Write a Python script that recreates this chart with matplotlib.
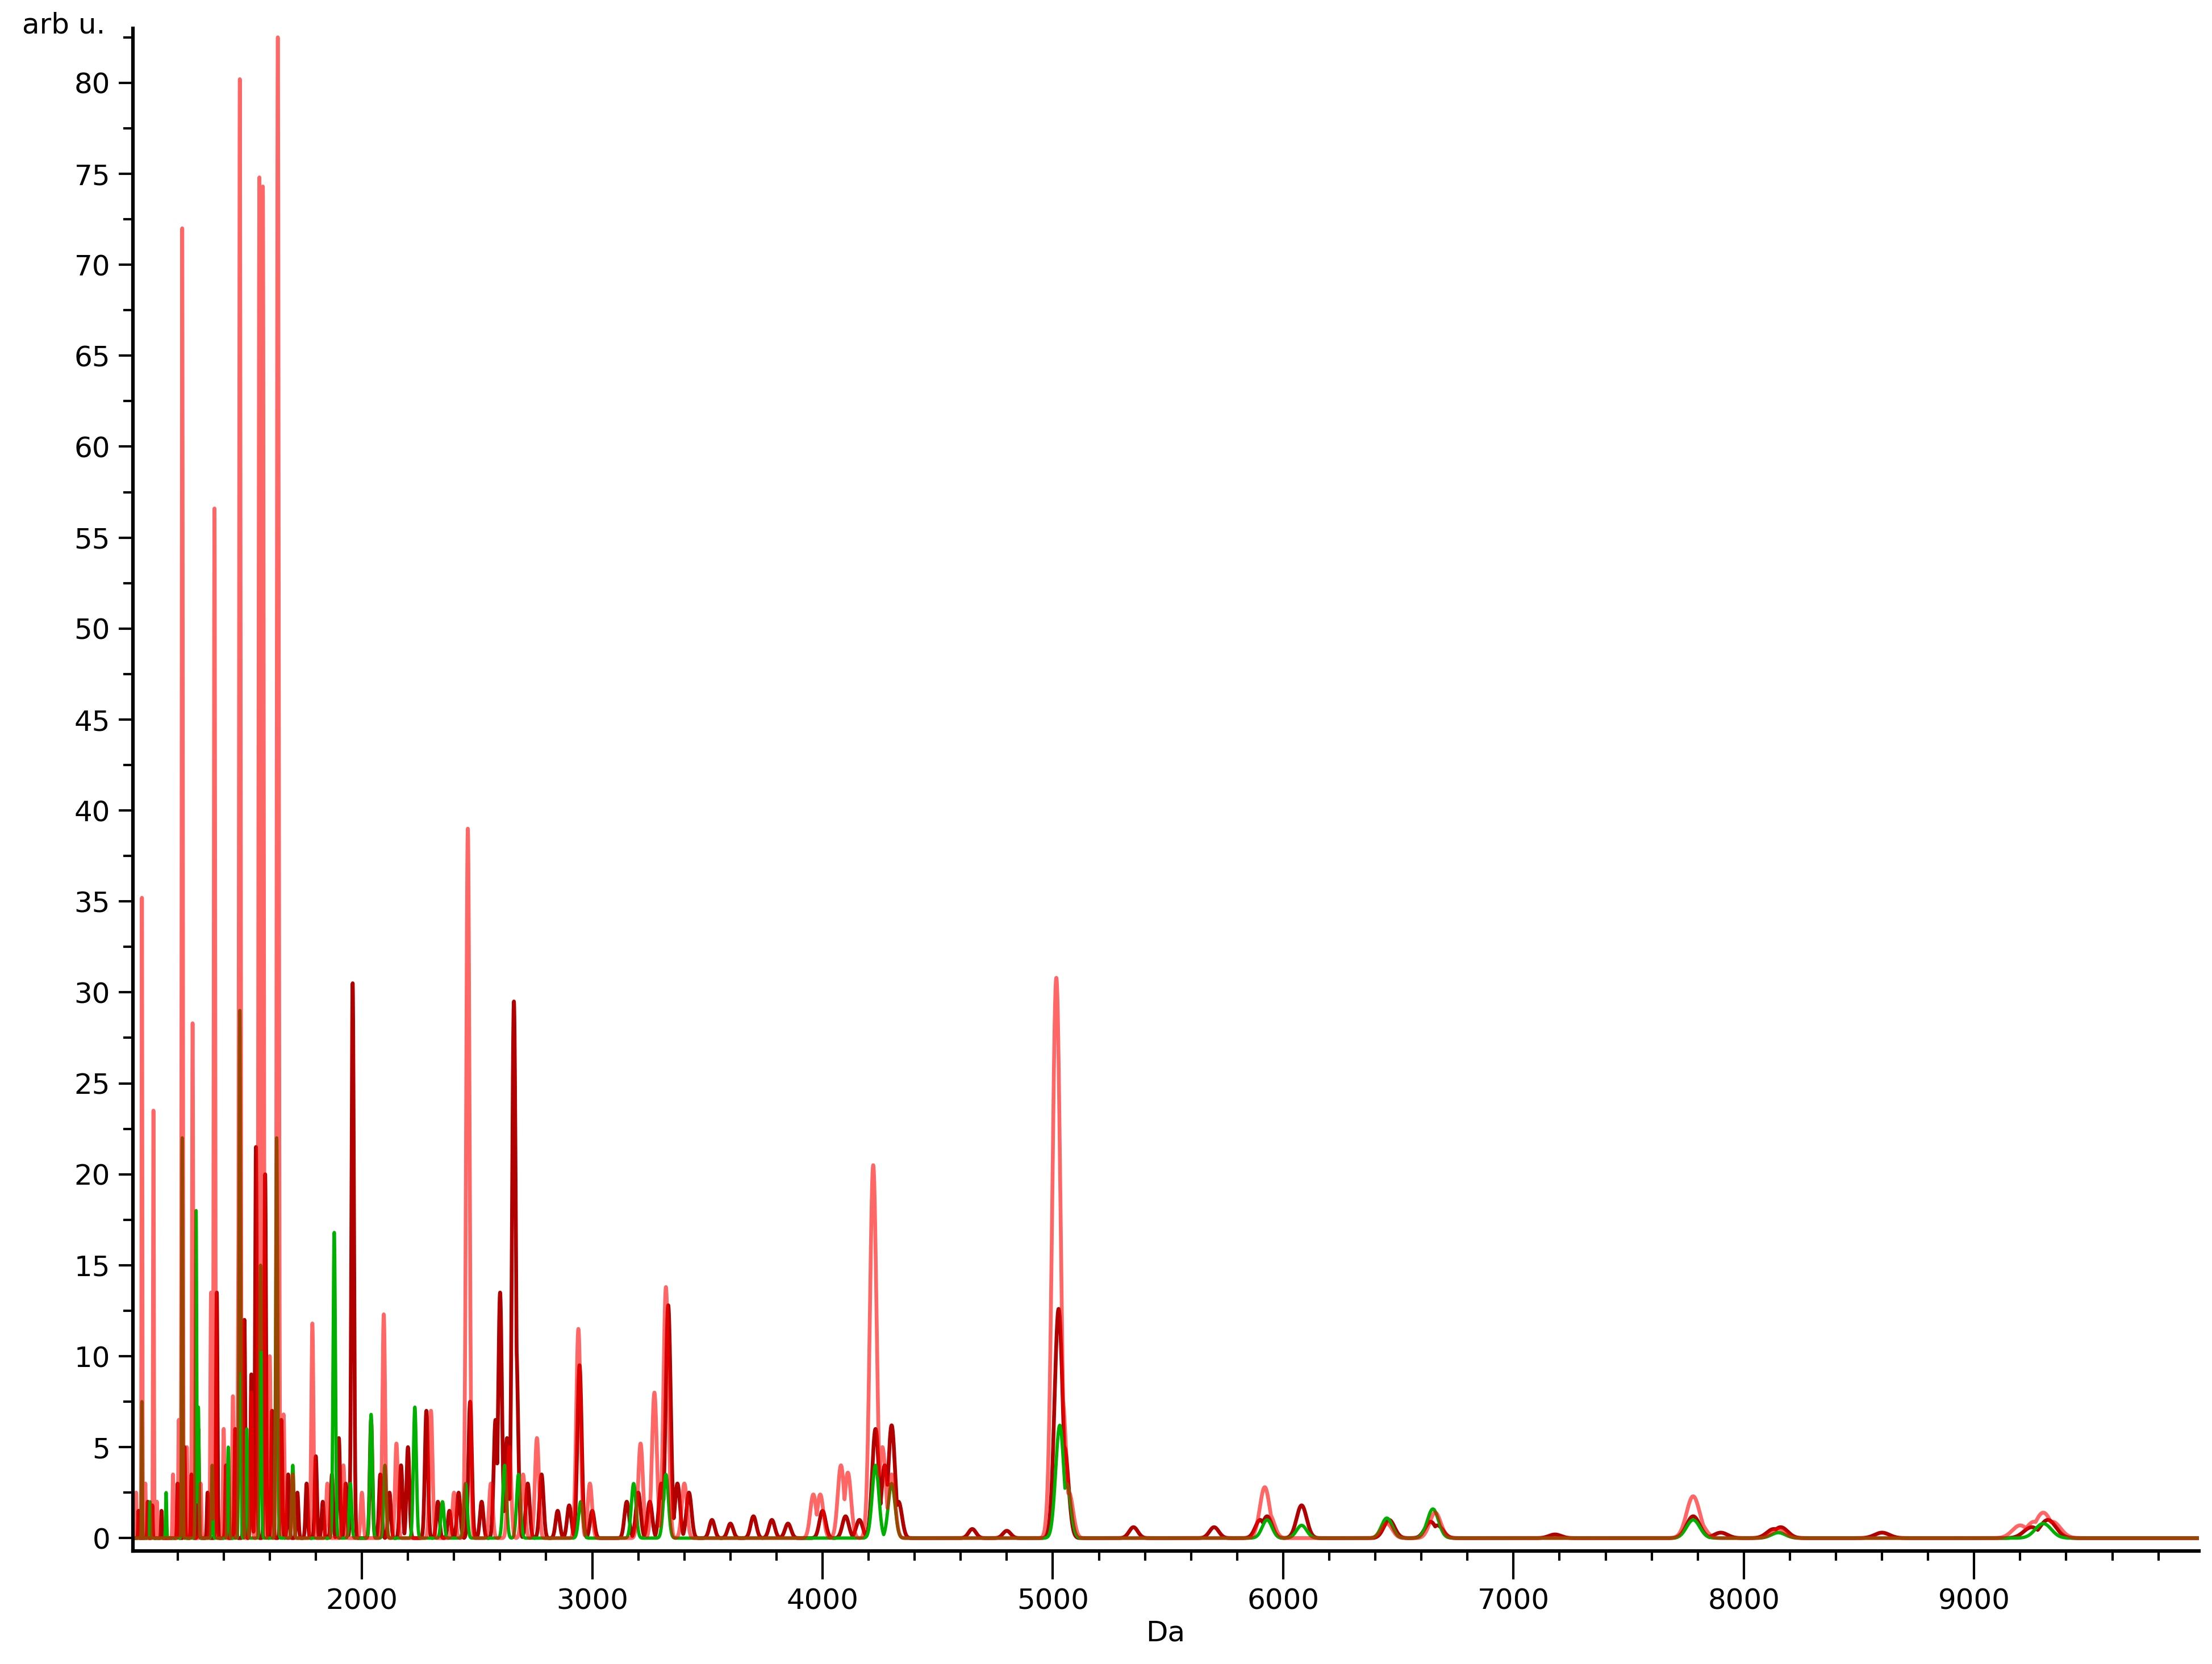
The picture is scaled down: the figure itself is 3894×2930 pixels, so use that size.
import matplotlib.pyplot as plt
import numpy as np
from matplotlib.ticker import MultipleLocator

# Peak lists: (mass in Da, height in arb u.)
red_mass = [1020, 1045, 1060, 1095, 1110, 1180, 1205, 1220, 1240, 1265, 1300, 1345, 1360, 1400, 1440,
            1465, 1470, 1480, 1520, 1555, 1570, 1600, 1635, 1660, 1700, 1785, 1850, 1920, 2000, 2095,
            2150, 2300, 2400, 2460, 2560, 2640, 2700, 2760, 2940, 2990, 3210, 3270, 3320, 3400, 3960,
            3990, 4080, 4110, 4220, 4260, 4300, 5015, 5040, 5070, 5920, 5940, 6450, 6660, 7780,
            7800, 8150, 9200, 9260, 9300, 9340]
red_height = [2.5, 35.2, 3.0, 23.5, 2.0, 3.5, 6.5, 72.0, 5.0, 28.3, 3.0, 13.5, 56.6, 6.0, 7.8,
              17.0, 80.2, 12.0, 8.0, 74.8, 74.3, 10.0, 82.5, 6.8, 3.5, 11.8, 3.0, 4.0, 2.5, 12.3,
              5.2, 7.0, 2.5, 39.0, 3.0, 5.0, 3.5, 5.5, 11.5, 3.0, 5.2, 8.0, 13.8, 3.0, 2.4,
              2.4, 4.0, 3.6, 20.5, 5.0, 3.5, 30.8, 7.8, 2.5, 2.8, 1.3, 0.8, 1.4, 2.3,
              1.0, 0.5, 0.7, 0.9, 1.4, 0.9]

dark_mass = [1030, 1070, 1090, 1130, 1200, 1230, 1260, 1290, 1330, 1370, 1410, 1450, 1490, 1520,
             1540, 1580, 1610, 1650, 1680, 1720, 1760, 1800, 1830, 1870, 1900, 1930, 1960, 2040,
             2080, 2120, 2170, 2200, 2280, 2330, 2380, 2420, 2470, 2520, 2580, 2600, 2630, 2660,
             2670, 2720, 2780, 2850, 2900, 2945, 3000, 3150, 3200, 3250, 3300, 3330, 3370, 3420,
             3520, 3600, 3700, 3780, 3850, 4000, 4100, 4160, 4230, 4270, 4300, 4330, 4650, 4800,
             5025, 5050, 5350, 5700, 5900, 5930, 6080, 6460, 6640, 6670, 7180, 7780, 7900, 8130,
             8160, 8600, 9250, 9320]
dark_height = [1.5, 2.0, 1.8, 1.5, 3.0, 5.0, 3.5, 6.0, 2.5, 13.5, 4.0, 6.0, 12.0, 9.0,
               21.5, 20.0, 7.0, 6.5, 3.5, 2.5, 3.0, 4.5, 2.0, 3.5, 5.5, 3.0, 30.5, 6.5,
               3.5, 2.5, 4.0, 5.0, 7.0, 2.0, 1.5, 2.5, 7.5, 2.0, 6.5, 13.5, 5.5, 29.5,
               10.5, 3.0, 3.5, 1.5, 1.8, 9.5, 1.5, 2.0, 2.5, 2.0, 3.0, 12.8, 3.0, 2.5,
               1.0, 0.8, 1.2, 1.0, 0.8, 1.5, 1.2, 1.0, 6.0, 4.0, 6.2, 2.0, 0.5, 0.4,
               12.6, 5.0, 0.6, 0.6, 1.0, 1.2, 1.8, 1.0, 0.9, 0.7, 0.2, 1.2, 0.3, 0.5,
               0.6, 0.3, 0.6, 1.0]

green_mass = [1045, 1080, 1150, 1220, 1280, 1290, 1350, 1420, 1470, 1500, 1560, 1630, 1700,
              1880, 1950, 2040, 2100, 2230, 2350, 2450, 2620, 2680, 2950, 3180, 3320, 4230,
              4300, 5030, 5060, 5930, 6080, 6450, 6650, 7780, 8150, 9300]
green_height = [7.5, 2.0, 2.5, 22.0, 18.0, 7.2, 4.0, 5.0, 29.0, 6.0, 15.0, 22.0, 4.0,
                16.8, 3.0, 6.8, 4.0, 7.2, 2.0, 3.0, 4.0, 3.5, 2.0, 3.0, 3.5, 4.0,
                3.0, 6.2, 3.0, 1.0, 0.7, 1.1, 1.6, 1.0, 0.3, 0.8]

mz = np.arange(1005, 9975, 0.5)


def spectrum(masses, heights):
    # envelope of the individual peaks, so each apex keeps its read-off height
    y = np.zeros_like(mz)
    for m, h in zip(masses, heights):
        sigma = 1.5 + 0.004 * (m - 1000)
        y = np.maximum(y, h * np.exp(-0.5 * ((mz - m) / sigma) ** 2))
    return y


fig = plt.figure(figsize=(12.98, 9.767), dpi=300)
ax = fig.add_axes([0.06, 0.068, 0.934, 0.915])

ax.plot(mz, spectrum(dark_mass, dark_height), color='#b00000', lw=1.6)
ax.plot(mz, spectrum(green_mass, green_height), color='#00b000', lw=1.4)
ax.plot(mz, spectrum(red_mass, red_height), color='#ff0000', lw=1.6, alpha=0.6)

ax.set_xlim(1005, 9975)
ax.set_ylim(-0.7, 83)
ax.xaxis.set_major_locator(MultipleLocator(1000))
ax.xaxis.set_minor_locator(MultipleLocator(200))
ax.yaxis.set_major_locator(MultipleLocator(5))
ax.yaxis.set_minor_locator(MultipleLocator(2.5))
ax.tick_params(which='major', length=6, width=1, labelsize=12)
ax.tick_params(which='minor', length=4, width=1)
ax.tick_params(axis='x', which='major', length=12)
ax.spines['top'].set_visible(False)
ax.spines['right'].set_visible(False)
ax.spines['left'].set_linewidth(1.5)
ax.spines['bottom'].set_linewidth(1.5)
ax.set_xlabel('Da', fontsize=12, labelpad=2)
fig.text(0.01, 0.993, 'arb u.', fontsize=12, va='top', ha='left')

fig.savefig('out.png', dpi=300)
